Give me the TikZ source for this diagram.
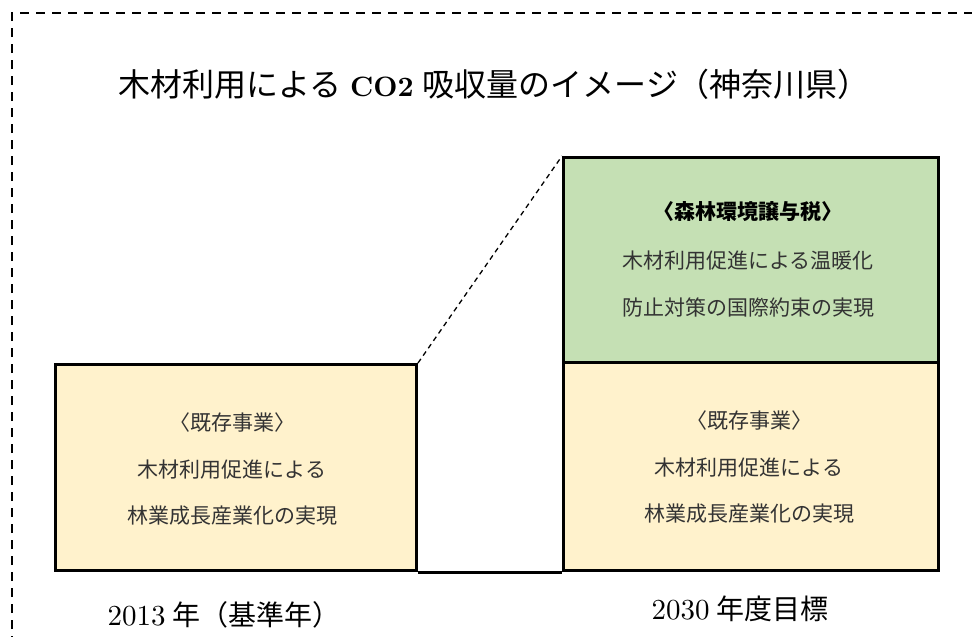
\documentclass[tikz,border=0pt]{standalone}
\usepackage{fontspec}
\newfontfamily\cjk{Noto Sans CJK JP}
\newfontfamily\numfont{lmroman10-regular}[Extension=.otf,BoldFont=lmroman10-bold]
\definecolor{boxyellow}{HTML}{FFF2CC}
\definecolor{boxgreen}{HTML}{C5E0B4}
\definecolor{txtgray}{HTML}{333333}
\begin{document}
\begin{tikzpicture}[x=1pt,y=-1pt,
  frame/.style={line width=2.8pt,dash pattern=on 9pt off 7pt},
  barbox/.style={draw=black,line width=3pt,inner sep=0pt,anchor=north west},
  boxtext/.style={text=txtgray,inner sep=0pt,font=\cjk\fontsize{21}{21}\selectfont},
  yeartext/.style={text=black,inner sep=0pt,font=\numfont\fontsize{29}{29}\selectfont},
  guide/.style={line width=1.3pt,dash pattern=on 5pt off 4pt}]
\useasboundingbox (0,0) rectangle (972,637);
% dashed frame
\coordinate (fbl) at (12,645);
\coordinate (ftl) at (12,13);
\coordinate (ftr) at (985,13);
\draw[frame] (fbl) -- (ftl) -- (ftr);
% title
\node[inner sep=0pt] (title) at (494,84) {{\cjk\fontsize{32}{32}\selectfont 木材利用による}\hspace{9pt}{\numfont\fontsize{28}{28}\selectfont\bfseries CO2}\hspace{9pt}{\cjk\fontsize{32}{32}\selectfont 吸収量のイメージ（神奈川県）}};
% boxes
\node[barbox,fill=boxyellow,minimum width=361pt,minimum height=206pt] (left) at (54,363) {};
\node[barbox,fill=boxgreen,minimum width=375pt,minimum height=205pt] (green) at (562,156) {};
\node[barbox,fill=boxyellow,minimum width=375pt,minimum height=208pt] (rlow) at (562,361) {};
% connectors
\draw[guide] (left.north east) -- (green.north west);
\draw[line width=3pt] (left.south east) -- (rlow.south west);
% left box text
\node[boxtext] (l1) at (232,423) {〈既存事業〉};
\node[boxtext] (l2) at (232,470) {木材利用促進による};
\node[boxtext] (l3) at (232,516) {林業成長産業化の実現};
% green box text
\node[boxtext,text=black,font=\cjk\bfseries\fontsize{21}{21}\selectfont] (g1) at (748,212) {〈森林環境譲与税〉};
\node[boxtext] (g2) at (748,261) {木材利用促進による温暖化};
\node[boxtext] (g3) at (748,308) {防止対策の国際約束の実現};
% right lower text
\node[boxtext] (r1) at (749,421) {〈既存事業〉};
\node[boxtext] (r2) at (749,468) {木材利用促進による};
\node[boxtext] (r3) at (749,514) {林業成長産業化の実現};
% year labels
\node[yeartext] (y1) at (224,615) {2013\hspace{7pt}{\cjk\fontsize{28}{28}\selectfont 年（基準年）}};
\node[yeartext] (y2) at (740,609) {2030\hspace{7pt}{\cjk\fontsize{28}{28}\selectfont 年度目標}};
\end{tikzpicture}
\end{document}
